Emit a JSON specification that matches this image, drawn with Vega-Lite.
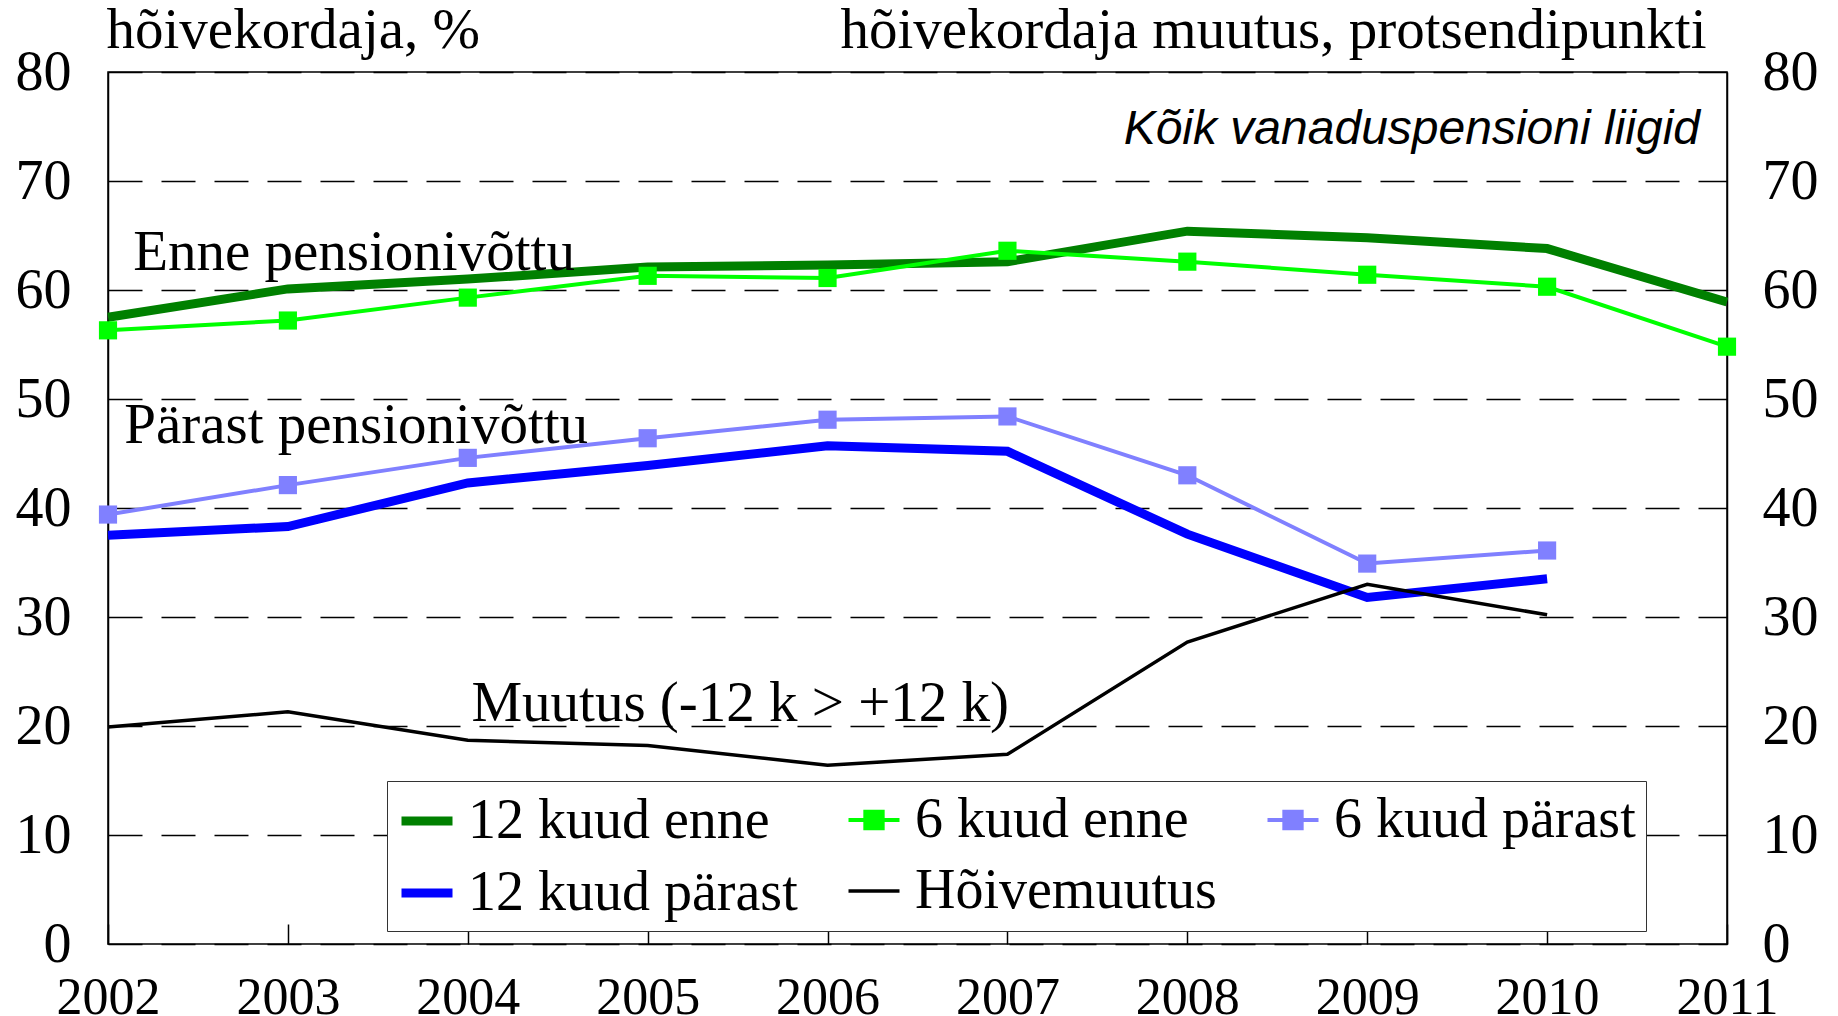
{
  "$schema": "https://vega.github.io/schema/vega-lite/v6.json",
  "width": 1619,
  "height": 872,
  "autosize": {"type": "none"},
  "padding": {"left": 108, "top": 72, "right": 111, "bottom": 72},
  "background": "white",
  "config": {"view": {"stroke": "black", "strokeWidth": 1.5}, "font": "Liberation Serif"},
  "datasets": {
    "series": [
      {"series": "12 kuud enne", "year": 2002, "value": 57.5},
      {"series": "12 kuud enne", "year": 2003, "value": 60.1},
      {"series": "12 kuud enne", "year": 2004, "value": 61.0},
      {"series": "12 kuud enne", "year": 2005, "value": 62.1},
      {"series": "12 kuud enne", "year": 2006, "value": 62.3},
      {"series": "12 kuud enne", "year": 2007, "value": 62.6},
      {"series": "12 kuud enne", "year": 2008, "value": 65.4},
      {"series": "12 kuud enne", "year": 2009, "value": 64.8},
      {"series": "12 kuud enne", "year": 2010, "value": 63.8},
      {"series": "12 kuud enne", "year": 2011, "value": 58.9},
      {"series": "6 kuud enne", "year": 2002, "value": 56.3},
      {"series": "6 kuud enne", "year": 2003, "value": 57.2},
      {"series": "6 kuud enne", "year": 2004, "value": 59.3},
      {"series": "6 kuud enne", "year": 2005, "value": 61.3},
      {"series": "6 kuud enne", "year": 2006, "value": 61.1},
      {"series": "6 kuud enne", "year": 2007, "value": 63.6},
      {"series": "6 kuud enne", "year": 2008, "value": 62.6},
      {"series": "6 kuud enne", "year": 2009, "value": 61.4},
      {"series": "6 kuud enne", "year": 2010, "value": 60.3},
      {"series": "6 kuud enne", "year": 2011, "value": 54.8},
      {"series": "6 kuud pärast", "year": 2002, "value": 39.4},
      {"series": "6 kuud pärast", "year": 2003, "value": 42.1},
      {"series": "6 kuud pärast", "year": 2004, "value": 44.6},
      {"series": "6 kuud pärast", "year": 2005, "value": 46.4},
      {"series": "6 kuud pärast", "year": 2006, "value": 48.1},
      {"series": "6 kuud pärast", "year": 2007, "value": 48.4},
      {"series": "6 kuud pärast", "year": 2008, "value": 43.0},
      {"series": "6 kuud pärast", "year": 2009, "value": 34.9},
      {"series": "6 kuud pärast", "year": 2010, "value": 36.1},
      {"series": "12 kuud pärast", "year": 2002, "value": 37.5},
      {"series": "12 kuud pärast", "year": 2003, "value": 38.3},
      {"series": "12 kuud pärast", "year": 2004, "value": 42.3},
      {"series": "12 kuud pärast", "year": 2005, "value": 43.9},
      {"series": "12 kuud pärast", "year": 2006, "value": 45.7},
      {"series": "12 kuud pärast", "year": 2007, "value": 45.2},
      {"series": "12 kuud pärast", "year": 2008, "value": 37.6},
      {"series": "12 kuud pärast", "year": 2009, "value": 31.8},
      {"series": "12 kuud pärast", "year": 2010, "value": 33.5},
      {"series": "Hõivemuutus", "year": 2002, "value": 19.9},
      {"series": "Hõivemuutus", "year": 2003, "value": 21.3},
      {"series": "Hõivemuutus", "year": 2004, "value": 18.7},
      {"series": "Hõivemuutus", "year": 2005, "value": 18.2},
      {"series": "Hõivemuutus", "year": 2006, "value": 16.4},
      {"series": "Hõivemuutus", "year": 2007, "value": 17.4},
      {"series": "Hõivemuutus", "year": 2008, "value": 27.7},
      {"series": "Hõivemuutus", "year": 2009, "value": 33.0},
      {"series": "Hõivemuutus", "year": 2010, "value": 30.2}
    ],
    "notes": [
      {"year": 2002.14, "value": 61.87, "label": "Enne pensionivõttu"},
      {"year": 2002.09, "value": 46.0, "label": "Pärast pensionivõttu"},
      {"year": 2004.02, "value": 20.5, "label": "Muutus (-12 k > +12 k)"}
    ],
    "title": [
      {"year": 2010.85, "value": 73.4, "label": "Kõik vanaduspensioni liigid"}
    ]
  },
  "encoding": {
    "x": {
      "field": "year", "type": "quantitative",
      "scale": {"domain": [2002, 2011], "nice": false, "zero": false},
      "axis": {
        "values": [2002, 2003, 2004, 2005, 2006, 2007, 2008, 2009, 2010, 2011],
        "format": "d", "title": null, "grid": false, "domain": false,
        "ticks": true, "tickSize": -20, "tickColor": "black", "tickWidth": 1.5,
        "labelFont": "Liberation Serif", "labelFontSize": 52, "labelColor": "black",
        "labelPadding": 48, "labelBaseline": "top", "labelFlush": false, "labelOverlap": false
      }
    },
    "y": {
      "field": "value", "type": "quantitative",
      "scale": {"domain": [0, 80], "nice": false},
      "axis": {
        "orient": "left",
        "values": [0, 10, 20, 30, 40, 50, 60, 70, 80],
        "grid": true, "gridColor": "black", "gridDash": [34, 19], "gridWidth": 1.5, "gridOpacity": 1,
        "domain": true, "domainColor": "black", "domainWidth": 1.5,
        "ticks": false,
        "labelFont": "Liberation Serif", "labelFontSize": 56, "labelColor": "black",
        "labelPadding": 37, "labelBaseline": "middle", "labelFlush": false,
        "title": "hõivekordaja, %", "titleAngle": 0, "titleAlign": "left", "titleBaseline": "alphabetic",
        "titleX": -2, "titleY": -25, "titleFont": "Liberation Serif", "titleFontSize": 57,
        "titleFontWeight": "normal", "titleColor": "black"
      }
    }
  },
  "layer": [
    {
      "data": {"name": "series"},
      "mark": {"type": "line", "clip": false},
      "encoding": {
        "color": {
          "field": "series", "type": "nominal",
          "scale": {
            "domain": ["12 kuud enne", "6 kuud enne", "6 kuud pärast", "12 kuud pärast", "Hõivemuutus"],
            "range": ["#008000", "#00FF00", "#8080FF", "#0000FF", "#000000"]
          },
          "legend": {
            "title": null, "orient": "none", "legendX": 279, "legendY": 709,
            "direction": "horizontal", "columns": 3,
            "strokeColor": "#333333", "fillColor": "white",
            "padding": 10, "rowPadding": 14, "columnPadding": 42,
            "symbolSize": 2601, "labelOffset": 11,
            "labelFont": "Liberation Serif", "labelFontSize": 56, "labelColor": "black",
            "labelLimit": 0,
            "encode": {
              "symbols": {
                "update": {
                  "shape": {"signal": "(datum.value === '6 kuud enne' || datum.value === '6 kuud pärast') ? 'M-1,0H1M-0.34,-0.32H0.34V0.32H-0.34Z' : 'M-1,0H1'"},
                  "strokeWidth": {"signal": "(datum.value === '12 kuud enne' || datum.value === '12 kuud pärast') ? 9 : (datum.value === 'Hõivemuutus' ? 3.5 : 4)"},
                  "fill": {"scale": "color", "field": "value"},
                  "stroke": {"scale": "color", "field": "value"},
                  "opacity": {"value": 1},
                  "fillOpacity": {"value": 1},
                  "strokeOpacity": {"value": 1}
                }
              }
            }
          }
        },
        "strokeWidth": {
          "field": "series", "type": "nominal",
          "scale": {
            "type": "ordinal",
            "domain": ["12 kuud enne", "6 kuud enne", "6 kuud pärast", "12 kuud pärast", "Hõivemuutus"],
            "range": [9, 4, 4, 9, 3.5]
          },
          "legend": null
        }
      }
    },
    {
      "data": {"name": "series"},
      "transform": [{"filter": {"field": "series", "oneOf": ["6 kuud enne", "6 kuud pärast"]}}],
      "mark": {"type": "square", "size": 330, "opacity": 1, "clip": false},
      "encoding": {
        "y": {
          "field": "value", "type": "quantitative",
          "scale": {"domain": [0, 80], "nice": false},
          "axis": {
            "orient": "right",
            "values": [0, 10, 20, 30, 40, 50, 60, 70, 80],
            "grid": false, "domain": true, "domainColor": "black", "domainWidth": 1.5,
            "ticks": false,
            "labelFont": "Liberation Serif", "labelFontSize": 56, "labelColor": "black",
            "labelPadding": 35, "labelBaseline": "middle", "labelFlush": false,
            "title": "hõivekordaja muutus, protsendipunkti", "titleAngle": 0, "titleAlign": "right",
            "titleBaseline": "alphabetic", "titleX": -21, "titleY": -25,
            "titleFont": "Liberation Serif", "titleFontSize": 57, "titleFontWeight": "normal", "titleColor": "black"
          }
        },
        "color": {"field": "series", "type": "nominal"}
      }
    },
    {
      "data": {"name": "notes"},
      "mark": {"type": "text", "align": "left", "baseline": "alphabetic", "font": "Liberation Serif", "fontSize": 57, "color": "black"},
      "encoding": {
        "y": {"field": "value", "type": "quantitative", "axis": null},
        "text": {"field": "label", "type": "nominal"}
      }
    },
    {
      "data": {"name": "title"},
      "mark": {"type": "text", "align": "right", "baseline": "alphabetic", "font": "Liberation Sans", "fontStyle": "italic", "fontSize": 48, "color": "black"},
      "encoding": {
        "y": {"field": "value", "type": "quantitative", "axis": null},
        "text": {"field": "label", "type": "nominal"}
      }
    }
  ],
  "resolve": {"axis": {"y": "independent"}}
}
